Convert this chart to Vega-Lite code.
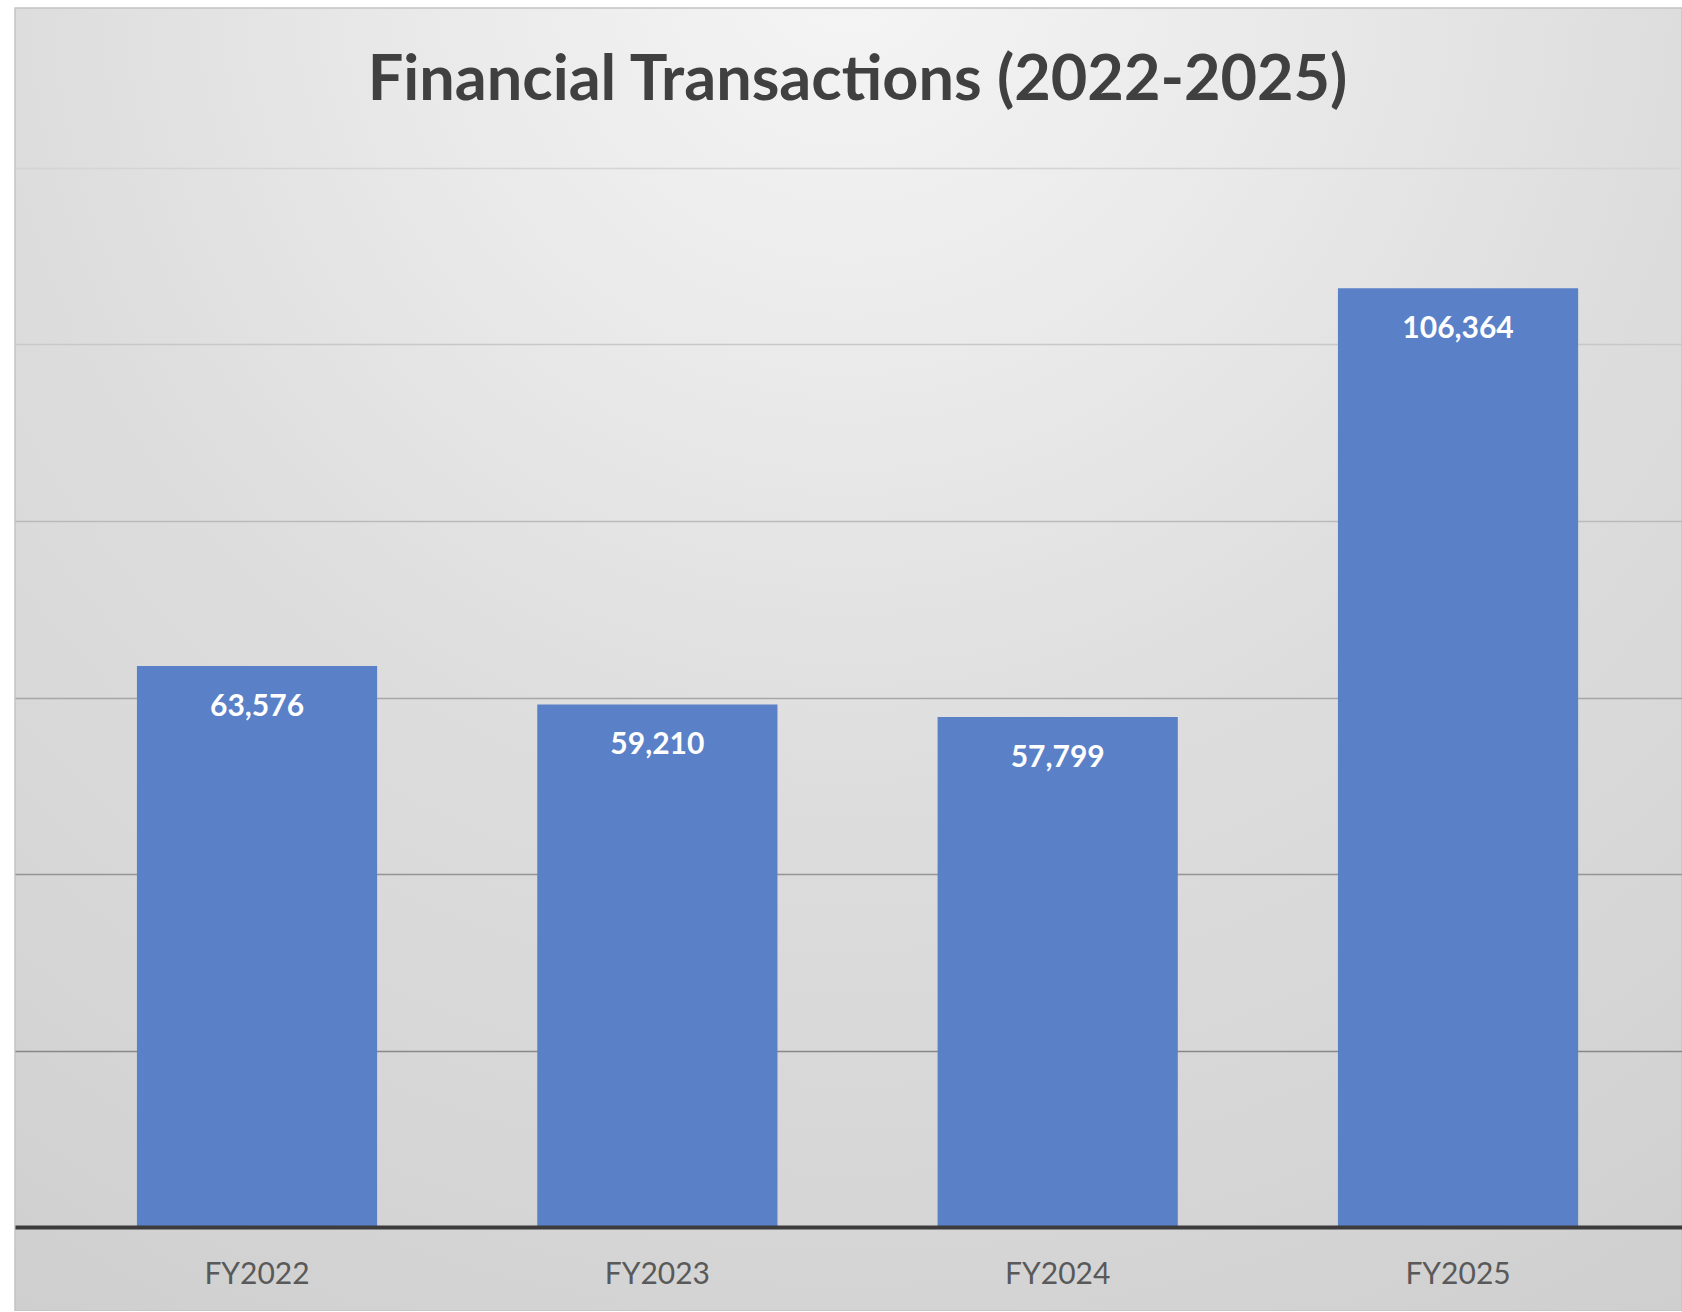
{
  "$schema": "https://vega.github.io/schema/vega-lite/v6.json",
  "width": 1667,
  "height": 1303,
  "autosize": {"type": "none"},
  "padding": {"left": 15, "top": 8, "right": 0, "bottom": 0},
  "background": "#FFFFFF",
  "title": {
    "text": "Financial Transactions (2022-2025)",
    "font": "Lato",
    "fontSize": 63,
    "fontWeight": "bold",
    "color": "#404040",
    "anchor": "middle",
    "frame": "group",
    "baseline": "alphabetic",
    "offset": -155,
    "dx": 9
  },
  "data": {
    "values": [
      {"year": "FY2022", "value": 63576},
      {"year": "FY2023", "value": 59210},
      {"year": "FY2024", "value": 57799},
      {"year": "FY2025", "value": 106364}
    ]
  },
  "view": {
    "fill": {
      "gradient": "radial",
      "x1": 0.5, "y1": 0.08, "r1": 0,
      "x2": 0.5, "y2": 0.08, "r2": 1,
      "stops": [
        {"offset": 0, "color": "#F5F5F5"},
        {"offset": 0.25, "color": "#EAEAEA"},
        {"offset": 0.5, "color": "#DDDDDD"},
        {"offset": 0.75, "color": "#D6D6D6"},
        {"offset": 1, "color": "#CDCDCD"}
      ]
    },
    "stroke": "#C4C4C4",
    "strokeWidth": 1.5
  },
  "encoding": {
    "x": {
      "field": "year",
      "type": "nominal",
      "sort": null,
      "scale": {"paddingInner": 0.4, "paddingOuter": 0.282, "align": 0.54},
      "axis": {
        "title": null,
        "orient": "bottom",
        "offset": -84,
        "labelAngle": 0,
        "ticks": false,
        "tickSize": 0,
        "grid": false,
        "domain": true,
        "domainColor": "#3C3C3C",
        "domainWidth": 4,
        "labelFont": "Lato",
        "labelFontSize": 30,
        "labelColor": "#595959",
        "labelBaseline": "alphabetic",
        "labelPadding": 56,
        "zindex": 2
      }
    }
  },
  "layer": [
    {
      "mark": {"type": "bar", "color": "#5A80C8"},
      "encoding": {
        "y": {
          "field": "value",
          "type": "quantitative",
          "scale": {"domain": [-9518, 138130], "nice": false, "zero": false},
          "axis": {
            "title": null,
            "domain": false,
            "ticks": false,
            "labels": false,
            "grid": true,
            "gridWidth": 1.5,
            "gridOpacity": 1,
            "values": [20000, 40000, 60000, 80000, 100000, 120000],
            "gridColor": {
              "condition": [
                {"test": "datum.value >= 110000", "value": "#D4D4D4"},
                {"test": "datum.value >= 90000", "value": "#C8C8C8"},
                {"test": "datum.value >= 70000", "value": "#BABABA"},
                {"test": "datum.value >= 50000", "value": "#A6A6A6"},
                {"test": "datum.value >= 30000", "value": "#959595"}
              ],
              "value": "#888888"
            }
          }
        },
        "y2": {"datum": 0}
      }
    },
    {
      "mark": {
        "type": "text",
        "color": "#FFFFFF",
        "font": "Lato",
        "fontSize": 30,
        "fontWeight": "bold",
        "baseline": "alphabetic",
        "align": "center",
        "dy": 50
      },
      "encoding": {
        "y": {"field": "value", "type": "quantitative"},
        "text": {"field": "value", "type": "quantitative", "format": ",d"}
      }
    }
  ]
}
